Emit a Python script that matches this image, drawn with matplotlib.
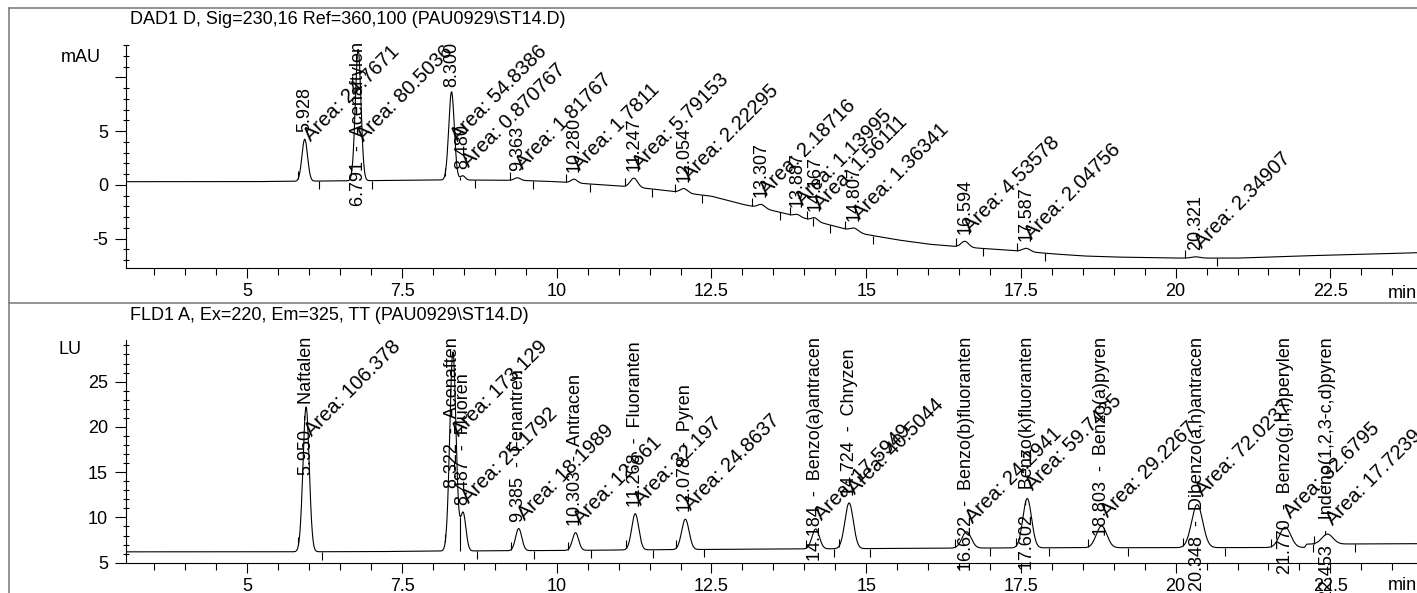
import numpy as np
import matplotlib
matplotlib.use('Agg')
import matplotlib.pyplot as plt
from matplotlib.ticker import MultipleLocator, FixedLocator, FuncFormatter
from matplotlib.lines import Line2D

plt.rcParams['font.family'] = ['Liberation Sans', 'DejaVu Sans']

# ---- DAD1 D signal ----
dad_title = 'DAD1 D, Sig=230,16 Ref=360,100 (PAU0929\\ST14.D)'
dad_rt = [5.928, 6.791, 8.300, 8.480, 9.363, 10.280, 11.247, 12.054,
          13.307, 13.887, 14.167, 14.807, 16.594, 17.587, 20.321]
dad_height = [3.9, 12.2, 8.2, 0.4, 0.25, 0.35, 0.85, 0.4,
              0.35, 0.2, 0.3, 0.3, 0.55, 0.3, 0.12]
dad_sigma = [0.045, 0.045, 0.045, 0.04, 0.05, 0.05, 0.06, 0.06,
             0.06, 0.05, 0.05, 0.06, 0.06, 0.06, 0.07]
dad_names = ['', 'Acenaftylen', '', '', '', '', '', '',
             '', '', '', '', '', '', '']
dad_area = ['24.7671', '80.5036', '54.8386', '0.870767', '1.81767', '1.7811',
            '5.79153', '2.22295', '2.18716', '1.13995', '1.56111', '1.36341',
            '4.53578', '2.04756', '2.34907']
dad_base_t = [3.04, 5.0, 6.0, 7.0, 8.0, 9.0, 9.5, 10.0, 10.5, 11.0, 11.5,
              12.0, 12.5, 13.0, 13.5, 14.0, 14.5, 15.0, 15.5, 16.0, 16.5,
              17.0, 17.5, 18.0, 18.5, 19.0, 20.0, 21.0, 22.0, 23.0, 23.9]
dad_base_v = [0.3, 0.3, 0.35, 0.4, 0.45, 0.45, 0.4, 0.3, 0.1, -0.1, -0.35,
              -0.7, -1.05, -1.8, -2.4, -3.1, -3.85, -4.6, -5.1, -5.5, -5.75,
              -5.95, -6.15, -6.4, -6.6, -6.7, -6.8, -6.8, -6.6, -6.45, -6.3]

# ---- FLD1 A signal ----
fld_title = 'FLD1 A, Ex=220, Em=325, TT (PAU0929\\ST14.D)'
fld_rt = [5.950, 8.322, 8.487, 9.385, 10.303, 11.268, 12.078, 14.184,
          14.724, 16.622, 17.602, 18.803, 20.348, 21.770, 22.453]
fld_height = [16.0, 22.0, 4.2, 2.45, 1.95, 4.0, 3.35, 2.2,
              5.05, 1.8, 5.45, 2.4, 4.75, 2.25, 1.1]
fld_sigma = [0.05, 0.05, 0.045, 0.05, 0.05, 0.057, 0.06, 0.06,
             0.068, 0.075, 0.07, 0.085, 0.09, 0.09, 0.09]
fld_names = ['Naftalen', 'Acenaften', 'Fluoren', 'Fenantren', 'Antracen',
             'Fluoranten', 'Pyren', 'Benzo(a)antracen', 'Chryzen',
             'Benzo(b)fluoranten', 'Benzo(k)fluoranten', 'Benzo(a)pyren',
             'Dibenzo(a,h)antracen', 'Benzo(g,h,i)perylen',
             'Indeno(1,2,3-c,d)pyren']
fld_area = ['106.378', '173.129', '25.1792', '18.1989', '12.661', '32.197',
            '24.8637', '17.5949', '40.5044', '24.2941', '59.7435', '29.2267',
            '72.0237', '32.6795', '17.7239']
fld_base_t = [3.04, 5.0, 7.0, 8.0, 10.0, 12.0, 14.0, 16.0, 18.0, 20.0,
              22.08, 22.12, 23.9]
fld_base_v = [6.2, 6.2, 6.22, 6.28, 6.35, 6.45, 6.52, 6.6, 6.65, 6.66,
              6.68, 7.05, 7.1]

W, H = 1417, 593
XMIN, XMAX = 3.04, 23.9


def trace(t, base_t, base_v, rts, heights, sigmas):
    y = np.interp(t, base_t, base_v)
    for rt, h, s in zip(rts, heights, sigmas):
        y = y + h * np.exp(-0.5 * ((t - rt) / s) ** 2)
    return y


def style_axis(ax, ylim, majors, labels):
    ax.set_xlim(XMIN, XMAX)
    ax.set_ylim(*ylim)
    ax.set_facecolor('none')
    for sp in ['top', 'right']:
        ax.spines[sp].set_visible(False)
    for sp in ['left', 'bottom']:
        ax.spines[sp].set_linewidth(0.8)
    ax.xaxis.set_major_locator(MultipleLocator(2.5))
    ax.xaxis.set_minor_locator(MultipleLocator(0.5))
    ax.xaxis.set_major_formatter(FuncFormatter(lambda v, p: '%g' % v))
    ax.yaxis.set_major_locator(FixedLocator(majors))
    ax.yaxis.set_major_formatter(FuncFormatter(
        lambda v, p: labels[majors.index(v)] if v in majors else ''))
    ax.yaxis.set_minor_locator(MultipleLocator(1))
    ax.tick_params(axis='x', which='major', direction='out', length=7,
                   width=0.8, pad=4, labelsize=13)
    ax.tick_params(axis='x', which='minor', direction='out', length=5,
                   width=0.8)
    ax.tick_params(axis='y', which='major', direction='out', length=8,
                   width=0.8, pad=5, labelsize=13)
    ax.tick_params(axis='y', which='minor', direction='inout', length=4.5,
                   width=0.8)


def draw_signal(ax, base_t, base_v, rts, heights, sigmas, names, areas):
    t = np.linspace(XMIN, XMAX, 6000)
    y = trace(t, base_t, base_v, rts, heights, sigmas)
    ax.plot(t, y, color='black', lw=0.8)

    # integration marks
    fig = ax.figure
    px_unit = ax.get_position().height * H / (ax.get_ylim()[1] - ax.get_ylim()[0])
    mh = 8 / px_unit
    starts = [rt - 2.5 * s for rt, s in zip(rts, sigmas)]
    ends = [rt + 5 * s for rt, s in zip(rts, sigmas)]
    skip_s = set()
    skip_e = set()
    for i in range(len(rts) - 1):
        if starts[i + 1] < rts[i] + 2.5 * sigmas[i] and rts[i + 1] - rts[i] < 0.25:
            sel = (t > rts[i]) & (t < rts[i + 1])
            tv = t[sel][np.argmin(y[sel])]
            yv = np.interp(tv, t, y)
            yb = np.interp(tv, base_t, base_v)
            ax.vlines(tv, yb, yv, color='black', lw=0.8)
            skip_e.add(i)
            skip_s.add(i + 1)
    for i in range(len(rts)):
        if i not in skip_s:
            y0 = np.interp(starts[i], t, y)
            ax.vlines(starts[i], y0, y0 + mh, color='black', lw=0.8)
        if i not in skip_e:
            y1 = np.interp(ends[i], t, y)
            ax.vlines(ends[i], y1 - mh, y1, color='black', lw=0.8)

    anns = []
    for rt, nm, ar in zip(rts, names, areas):
        apex = float(np.interp(rt, t, y))
        txt = '%.3f' % rt + ('  -  ' + nm if nm else '')
        a1 = ax.annotate(txt, (rt, apex), xytext=(0, 7),
                         textcoords='offset pixels', rotation=90,
                         ha='center', va='bottom', fontsize=13)
        a2 = ax.annotate('Area: ' + ar, (rt, apex), xytext=(6, 8),
                         textcoords='offset pixels', rotation=45,
                         rotation_mode='anchor', ha='left', va='baseline',
                         fontsize=14.5)
        anns += [a1, a2]
    return anns


fig = plt.figure(figsize=(W / 100, H / 100), dpi=100)

ax1 = fig.add_axes([126 / W, 1 - 268 / H, 1 - 126 / W, (268 - 45) / H])
style_axis(ax1, (-7.72, 13.0), [-5, 0, 5, 10], ['-5', '0', '5', ''])
anns1 = draw_signal(ax1, dad_base_t, dad_base_v, dad_rt, dad_height,
                    dad_sigma, dad_names, dad_area)

ax2 = fig.add_axes([126 / W, 1 - 562.7 / H, 1 - 126 / W, (562.7 - 340) / H])
style_axis(ax2, (5, 29.6), [5, 10, 15, 20, 25], ['5', '10', '15', '20', '25'])
anns2 = draw_signal(ax2, fld_base_t, fld_base_v, fld_rt, fld_height,
                    fld_sigma, fld_names, fld_area)

# keep labels below the top of each plot area
fig.canvas.draw()
renderer = fig.canvas.get_renderer()
for ax, anns in [(ax1, anns1), (ax2, anns2)]:
    lim = ax.get_window_extent(renderer).y1 + 3
    for a in anns:
        bb = a.get_window_extent(renderer)
        if bb.y1 > lim:
            dx, dy = a.xyann
            a.xyann = (dx, dy - (bb.y1 - lim))

# titles, units
fig.text(130 / W, 1 - 20 / H, dad_title, fontsize=13, va='center', ha='left')
fig.text(130 / W, 1 - 315 / H, fld_title, fontsize=13, va='center', ha='left')
fig.text(61 / W, 1 - 57 / H, 'mAU', fontsize=13, va='center', ha='left')
fig.text(58 / W, 1 - 350 / H, 'LU', fontsize=13, va='center', ha='left')
fig.text(1388 / W, 1 - 293 / H, 'min', fontsize=13, va='center', ha='left')
fig.text(1388 / W, 1 - 585 / H, 'min', fontsize=13, va='center', ha='left')

# frame lines
frame = dict(color='#808080', lw=1.2, transform=fig.transFigure)
fig.add_artist(Line2D([9 / W, 1], [1 - 8 / H, 1 - 8 / H], **frame))
fig.add_artist(Line2D([9 / W, 9 / W], [0, 1 - 8 / H], **frame))
fig.add_artist(Line2D([9 / W, 1], [1 - 303 / H, 1 - 303 / H], **frame))

fig.savefig('out.png', dpi=100, facecolor='white')
